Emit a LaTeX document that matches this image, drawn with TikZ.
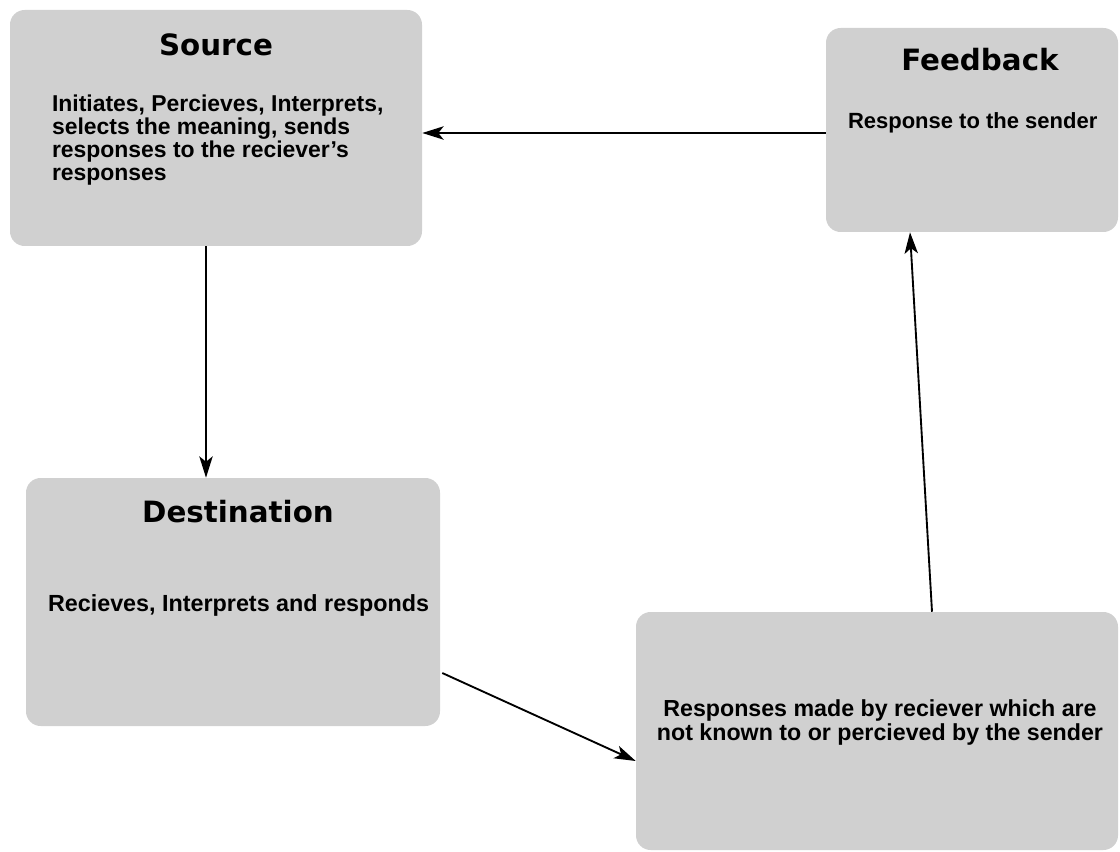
\documentclass[tikz,border=0pt]{standalone}
\usepackage{fontspec}
\setmainfont{Liberation Sans}
\newfontfamily\headfont{DejaVu Sans}
\usetikzlibrary{positioning}
\usetikzlibrary{arrows.meta}
\usetikzlibrary{calc}
\definecolor{boxgray}{HTML}{D0D0D0}

\begin{document}
\begin{tikzpicture}[x=0.75pt,y=-0.75pt,
  box/.style={rectangle, rounded corners=11pt, fill=boxgray, inner sep=0pt},
  head/.style={font=\headfont\bfseries\fontsize{22}{26}\selectfont},
  body/.style={font=\bfseries\fontsize{16.5}{17.5}\selectfont, align=left, inner sep=0pt},
  link/.style={-{Stealth[length=16pt,width=10pt,inset=4pt]}, line width=1.4pt}]
        % one pixel of the picture
        \def\pxl{0.75pt}
        \useasboundingbox (0,0) rectangle (1120,852);

        % the four boxes
        \node[box, minimum width=412*\pxl, minimum height=236*\pxl] (src) at (216,128) {};
        \node[box, minimum width=292*\pxl, minimum height=204*\pxl] (fb) at (972,130) {};
        \node[box, minimum width=414*\pxl, minimum height=248*\pxl] (dst) at (233,602) {};
        \node[box, minimum width=482*\pxl, minimum height=238*\pxl] (resp) at (877,731) {};

        % titles
        \node[head] (srctitle) at ($(src.north)+(0,35)$) {Source};
        \node[head] (fbtitle) at ($(fb.north)+(8,32)$) {Feedback};
        \node[head] (dsttitle) at ($(dst.north)+(5,34)$) {Destination};

        % texts
        \node[body, anchor=north west, font=\bfseries\fontsize{17.2}{17.3}\selectfont] (srctext) at ($(src.north west)+(42,85)$)
            {Initiates, Percieves, Interprets,\\selects the meaning, sends\\responses to the reciever's\\responses};
        \node[body, anchor=base west] (fbtext) at ($(fb.north west)+(22,101)$) {Response to the sender};
        \node[body, anchor=base west, font=\bfseries\fontsize{17.5}{18}\selectfont] (dsttext) at ($(dst.north west)+(22,134)$) {Recieves, Interprets and responds};
        \node[body, align=center, font=\bfseries\fontsize{17.4}{18}\selectfont] (resptext) at ($(resp.center)+(3,-9)$)
            {Responses made by reciever which are\\not known to or percieved by the sender};

        \draw[link] (fb.west |- 0,133) -- (src.east |- 0,133);
        \draw[link] ($(src.south)+(-10,0)$) -- ($(src.south |- dst.north)+(-10,0)$);
        \draw[link] ($(dst.east)+(2,71)$) -- ($(resp.west)+(0,30)$);
        \draw[link] ($(resp.north)+(55,0)$) -- ($(fb.south)+(-62,0)$);
\end{tikzpicture}
\end{document}
